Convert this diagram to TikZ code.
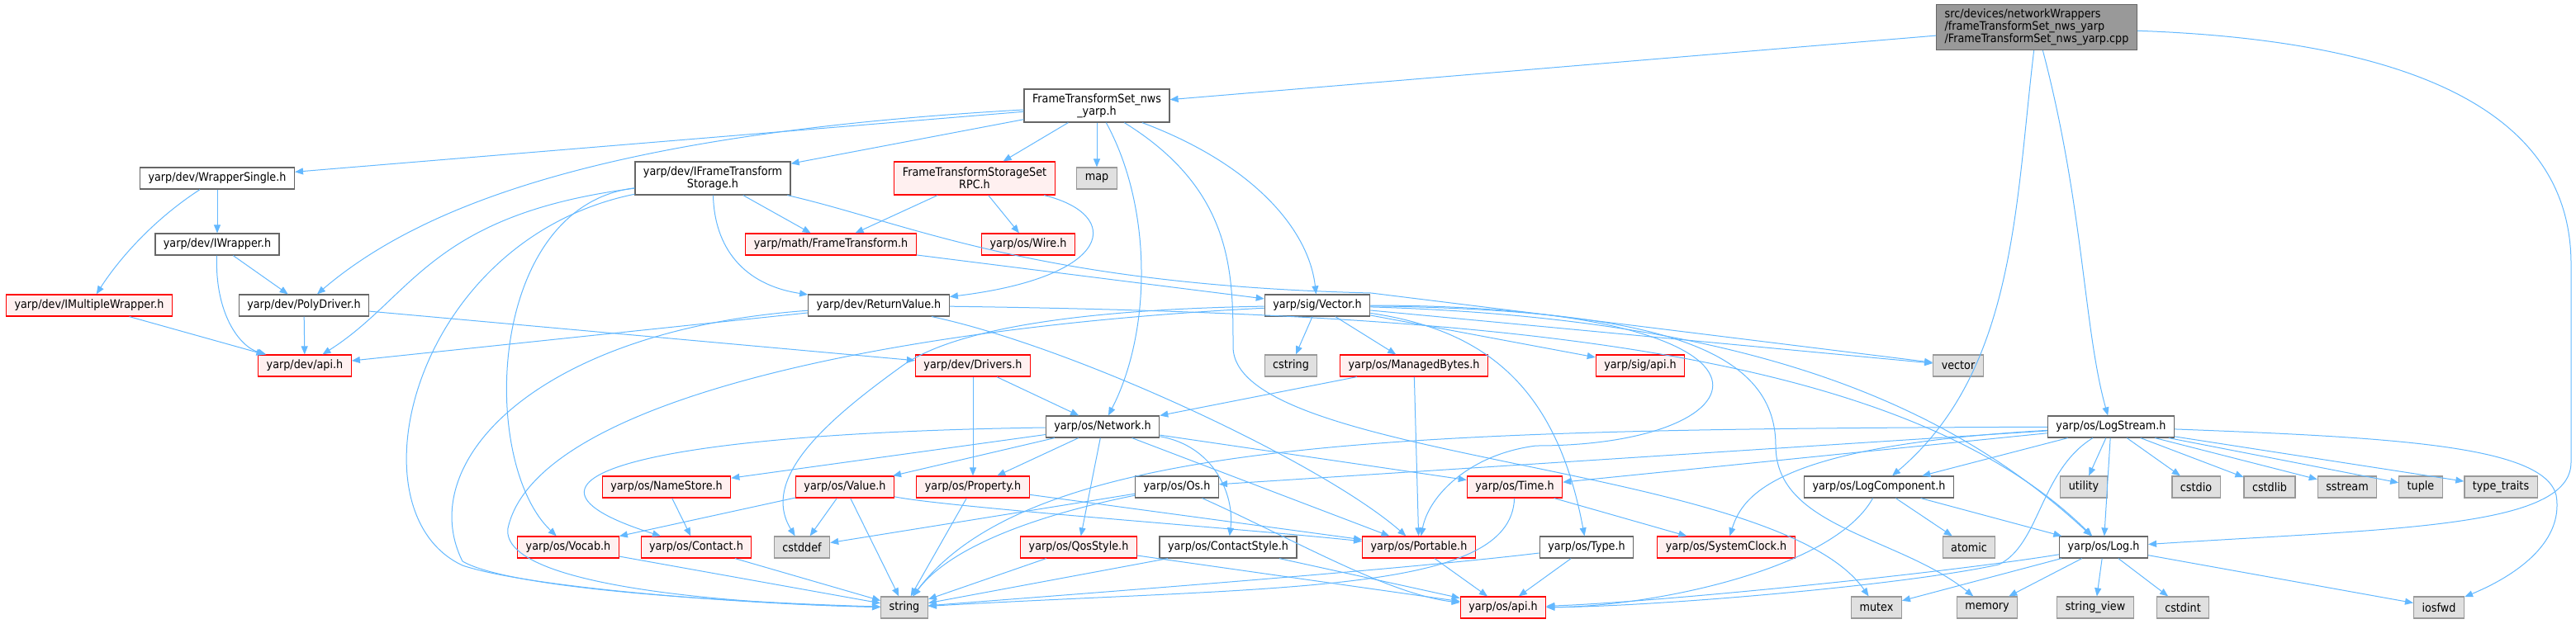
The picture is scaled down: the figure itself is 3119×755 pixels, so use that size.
\documentclass[tikz,border=0pt]{standalone}
\usepackage{fontspec}
\setmainfont{DejaVu Sans}[FakeStretch=0.9]
\usepackage{tikz}
\usetikzlibrary{arrows.meta}
\definecolor{dxgrey}{HTML}{666666}
\definecolor{dxpink}{HTML}{FFF0F0}
\definecolor{dxsys}{HTML}{E0E0E0}
\definecolor{dxsysline}{HTML}{999999}
\definecolor{dxmain}{HTML}{999999}
\definecolor{edgeblue}{HTML}{63B8FF}
\newcommand{\dxfont}{\fontsize{14.2}{15}\selectfont}
\tikzstyle{hdr}=[draw=dxgrey,fill=white,line width=1.2pt,minimum height=26pt,inner xsep=10pt,inner ysep=0pt,font=\dxfont]
\tikzstyle{trunc}=[hdr,draw=red,fill=dxpink]
\tikzstyle{sys}=[hdr,draw=dxsysline,fill=dxsys]
\tikzstyle{src}=[hdr,fill=dxmain,align=left,minimum height=55pt]

\begin{document}
\begin{tikzpicture}[x=1pt, y=-1pt, >={Triangle[length=10pt,width=8pt]},
  inc/.style={->,draw=edgeblue,line width=1pt}]

\useasboundingbox (0,0) rectangle (3119,755);

\node [src] (cpp) at (2466,33) {src/devices/networkWrappers\\/frameTransformSet\_nws\_yarp\\/FrameTransformSet\_nws\_yarp.cpp};
\node [hdr, align=center, minimum height=40pt] (nws) at (1328,128) {FrameTransformSet\_nws\\\_yarp.h};

% white headers
\node [hdr] (wrapsingle) at (263,216) {yarp/dev/WrapperSingle.h};
\node [hdr] (iwrapper) at (263,296) {yarp/dev/IWrapper.h};
\node [hdr] (polydriver) at (368,370) {yarp/dev/PolyDriver.h};
\node [hdr, align=center, minimum height=40pt] (ifts) at (863,216) {yarp/dev/IFrameTransform\\Storage.h};
\node [hdr] (retval) at (1064,370) {yarp/dev/ReturnValue.h};
\node [hdr] (sigvector) at (1595,370) {yarp/sig/Vector.h};
\node [hdr] (network) at (1335,517) {yarp/os/Network.h};
\node [hdr] (os) at (1425,590) {yarp/os/Os.h};
\node [hdr] (contactstyle) at (1487,663) {yarp/os/ContactStyle.h};
\node [hdr] (type) at (1921,663) {yarp/os/Type.h};
\node [hdr] (logcomp) at (2275,590) {yarp/os/LogComponent.h};
\node [hdr] (logstream) at (2556,517) {yarp/os/LogStream.h};
\node [hdr] (log) at (2547,663) {yarp/os/Log.h};

% truncated headers
\node [trunc] (imultiwrapper) at (108,370) {yarp/dev/IMultipleWrapper.h};
\node [trunc] (devapi) at (369,443) {yarp/dev/api.h};
\node [trunc, align=center, minimum height=40pt] (rpc) at (1180,216) {FrameTransformStorageSet\\RPC.h};
\node [trunc] (mathft) at (1006,296) {yarp/math/FrameTransform.h};
\node [trunc] (wire) at (1245,296) {yarp/os/Wire.h};
\node [trunc] (drivers) at (1178,443) {yarp/dev/Drivers.h};
\node [trunc] (managedbytes) at (1712,443) {yarp/os/ManagedBytes.h};
\node [trunc] (sigapi) at (1986,443) {yarp/sig/api.h};
\node [trunc] (namestore) at (807,590) {yarp/os/NameStore.h};
\node [trunc] (value) at (1023,590) {yarp/os/Value.h};
\node [trunc] (property) at (1178,590) {yarp/os/Property.h};
\node [trunc] (time) at (1834,590) {yarp/os/Time.h};
\node [trunc] (vocab) at (688,663) {yarp/os/Vocab.h};
\node [trunc] (contact) at (843,663) {yarp/os/Contact.h};
\node [trunc] (qosstyle) at (1306,663) {yarp/os/QosStyle.h};
\node [trunc] (portable) at (1718,663) {yarp/os/Portable.h};
\node [trunc] (systemclock) at (2090,663) {yarp/os/SystemClock.h};
\node [trunc] (osapi) at (1820,736) {yarp/os/api.h};

% system headers
\foreach \n/\t/\x/\y in {map/map/1328/216, cstring/cstring/1563/443, vector/vector/2371/443,
    cstddef/cstddef/971/663, string/string/1095/736, atomic/atomic/2384/663,
    mutex/mutex/2272/736, memory/memory/2406/736, utility/utility/2523/590,
    cstdio/cstdio/2659/590, cstdlib/cstdlib/2748/590, sstream/sstream/2842/590,
    tuple/tuple/2931/590, typetraits/type\_traits/3028/590, stringview/string\_view/2537/736,
    cstdint/cstdint/2643/736, iosfwd/iosfwd/2953/736}
  \node [sys] (\n) at (\x,\y) {\t};

% the .cpp
\draw [inc] (cpp) -- (nws);
\draw [inc] (cpp) .. controls (2440,250) and (2440,450) .. (logcomp);
\draw [inc] (cpp) .. controls (2523,250) and (2523,400) .. (logstream);
\draw [inc] (cpp) .. controls (2950,50) and (3113,150) .. (3113,320) -- (3113,560)
  .. controls (3113,640) and (2900,640) .. (log);

% FrameTransformSet_nws_yarp.h
\foreach \t in {wrapsingle,ifts,rpc,map}
  \draw [inc] (nws) -- (\t);
\draw [inc] (nws) .. controls (760,160) and (520,240) .. (polydriver);
\draw [inc] (nws) .. controls (1395,250) and (1395,400) .. (network);
\draw [inc] (nws) .. controls (1520,200) and (1585,280) .. (sigvector);
\draw [inc] (nws) .. controls (1493,230) and (1493,330) .. (1493,420)
  .. controls (1493,560) and (2150,560) .. (mutex);

% IFrameTransformStorage.h
\draw [inc] (ifts) -- (mathft);
\draw [inc] (ifts) .. controls (865,300) and (900,345) .. (retval);
\draw [inc] (ifts) .. controls (1100,270) and (1250,345) .. (1660,355) -- (vector);
\draw [inc] (ifts) .. controls (520,260) and (500,360) .. (devapi);
\draw [inc] (ifts) .. controls (589,250) and (580,560) .. (vocab);
\draw [inc] (ifts) .. controls (500,290) and (420,620) .. (560,685)
  .. controls (640,712) and (900,732) .. (string);

% FrameTransformStorageSetRPC.h
\foreach \t in {mathft,wire}
  \draw [inc] (rpc) -- (\t);
\draw [inc] (rpc) .. controls (1360,260) and (1350,335) .. (retval);

% wrappers and drivers
\draw [inc] (wrapsingle) -- (iwrapper);
\draw [inc] (wrapsingle) .. controls (180,270) and (140,320) .. (imultiwrapper);
\draw [inc] (iwrapper) -- (polydriver);
\draw [inc] (iwrapper) .. controls (260,380) and (290,420) .. (devapi);
\draw [inc] (imultiwrapper) -- (devapi);
\foreach \t in {devapi,drivers}
  \draw [inc] (polydriver) -- (\t);
\foreach \t in {property,network}
  \draw [inc] (drivers) -- (\t);

% ReturnValue.h and FrameTransform.h
\draw [inc] (mathft) -- (sigvector);
\draw [inc] (retval) -- (devapi);
\draw [inc] (retval) .. controls (650,400) and (500,560) .. (560,680)
  .. controls (620,715) and (900,730) .. (string);
\draw [inc] (retval) .. controls (1300,420) and (1600,560) .. (portable);
\draw [inc] (retval) .. controls (1800,380) and (2300,420) .. (log);

% Vector.h
\foreach \t in {cstring,managedbytes,sigapi,vector}
  \draw [inc] (sigvector) -- (\t);
\draw [inc] (sigvector) .. controls (1300,375) and (1150,400) .. (1090,445)
  .. controls (1000,510) and (920,580) .. (cstddef);
\draw [inc] (sigvector) .. controls (1100,395) and (650,480) .. (615,640)
  .. controls (605,712) and (900,732) .. (string);
\draw [inc] (sigvector) .. controls (1800,400) and (1885,470) .. (type);
\draw [inc] (sigvector) .. controls (2200,370) and (2150,540) .. (1860,540)
  .. controls (1780,550) and (1730,600) .. (portable);
\draw [inc] (sigvector) .. controls (2100,385) and (2350,480) .. (log);
\draw [inc] (sigvector) .. controls (2000,375) and (2150,420) .. (2150,540)
  .. controls (2150,640) and (2300,650) .. (memory);
\foreach \t in {network,portable}
  \draw [inc] (managedbytes) -- (\t);

% Network.h
\foreach \t in {namestore,value,property,qosstyle,portable,time}
  \draw [inc] (network) -- (\t);
\draw [inc] (network) .. controls (1470,540) and (1495,600) .. (contactstyle);
\draw [inc] (network) .. controls (780,525) and (580,580) .. (contact);
\draw [inc] (namestore) -- (contact);

% yarp/os leaves
\foreach \t in {vocab,cstddef,string}
  \draw [inc] (value) -- (\t);
\draw [inc] (value) .. controls (1150,615) and (1500,640) .. (portable);
\foreach \t in {string,portable}
  \draw [inc] (property) -- (\t);
\draw [inc] (os) -- (cstddef);
\draw [inc] (os) .. controls (1300,615) and (1160,650) .. (string);
\draw [inc] (os) .. controls (1560,650) and (1680,720) .. (osapi);
\foreach \t in {string,osapi}
  \draw [inc] (qosstyle) -- (\t);
\foreach \t in {string,osapi}
  \draw [inc] (contactstyle) -- (\t);
\draw [inc] (contact) -- (string);
\draw [inc] (vocab) -- (string);
\draw [inc] (time) -- (systemclock);
\draw [inc] (time) .. controls (1830,720) and (1550,710) .. (string);
\draw [inc] (type) -- (osapi);
\draw [inc] (type) .. controls (1700,690) and (1300,720) .. (string);
\draw [inc] (portable) -- (osapi);

% logging
\draw [inc] (logcomp) .. controls (2220,690) and (2000,735) .. (osapi);
\foreach \t in {atomic,log}
  \draw [inc] (logcomp) -- (\t);
\draw [inc] (log) .. controls (2350,695) and (2000,730) .. (osapi);
\foreach \t in {mutex,memory,stringview,cstdint,iosfwd}
  \draw [inc] (log) -- (\t);
\foreach \t in {utility,cstdio,cstdlib,sstream,tuple,typetraits,log,logcomp,os,time}
  \draw [inc] (logstream) -- (\t);
\draw [inc] (logstream) .. controls (2150,540) and (2110,600) .. (systemclock);
\draw [inc] (logstream) .. controls (2900,530) and (3080,540) .. (3095,600)
  .. controls (3105,660) and (3040,700) .. (iosfwd);
\draw [inc] (logstream) .. controls (1700,520) and (1250,530) .. (string);
\draw [inc] (logstream) .. controls (2470,570) and (2470,660) .. (2420,684)
  .. controls (2300,710) and (2000,735) .. (osapi);

\end{tikzpicture}
\end{document}
